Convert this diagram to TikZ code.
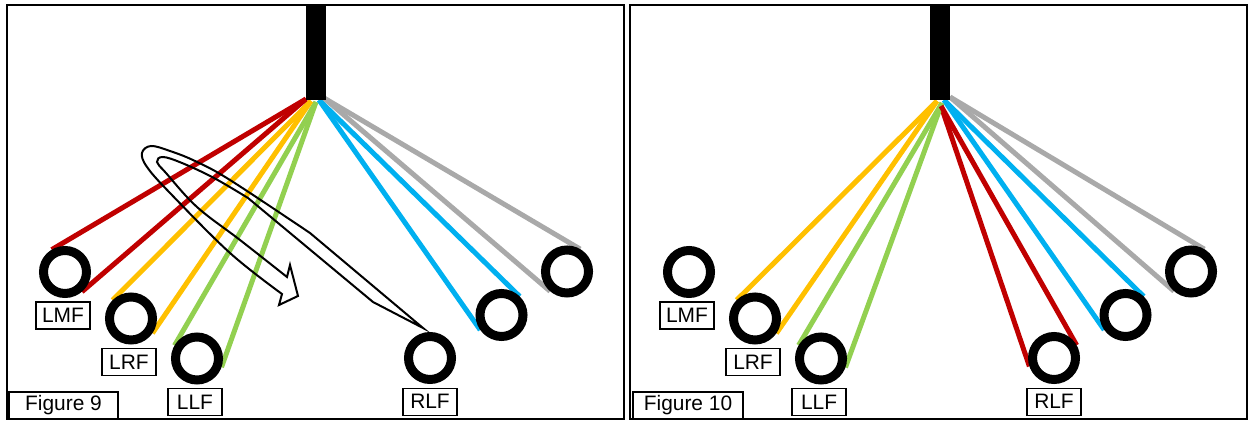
\documentclass[tikz,border=0pt]{standalone}
\usepackage{fontspec}
\setmainfont{Liberation Sans}
\usetikzlibrary{calc}
\usetikzlibrary{positioning}
\usetikzlibrary{backgrounds}

\definecolor{wirered}{HTML}{C00000}
\definecolor{wireyellow}{HTML}{FFC000}
\definecolor{wiregreen}{HTML}{92D050}
\definecolor{wireblue}{HTML}{00B0F0}
\definecolor{wiregray}{HTML}{A9A9A9}

\tikzset{
  frame/.style={line width=0.35mm},
  spk/.style={circle, draw=black, fill=white, line width=1.8mm, outer sep=0.9mm,
    minimum size=8.6mm, inner sep=0pt},
  tag/.style={draw, line width=0.28mm, minimum width=10.8mm, minimum height=5.4mm,
    inner sep=0pt, font=\fontsize{11.9}{14}\selectfont},
  wire/.style={line width=1mm},
  swoop/.style={line width=0.4mm, line join=miter},
}

\begin{document}
\begin{tikzpicture}[x=0.2mm, y=-0.2mm]
\useasboundingbox (0,0) rectangle (1250,421);

% Figure 9
\draw [frame] (7,5) rectangle (624,419);
\fill (306,4) rectangle (326,100);

\node [spk] (lmf9) at (65,272) {};
\node [spk] (lrf9) at (131,318.5) {};
\node [spk] (llf9) at (197,358.5) {};
\node [spk] (rlf9) at (430,358) {};
\node [spk] (rrf9) at (501.5,315) {};
\node [spk] (rmf9) at (567,271.5) {};

\node [tag, below=0.7mm of lmf9, xshift=-0.4mm] (lmftag9) {LMF};
\node [tag, below=0.7mm of lrf9, xshift=-0.4mm] (lrftag9) {LRF};
\node [tag, below=0.7mm of llf9, xshift=-0.4mm] (llftag9) {LLF};
\node [tag, below=0.7mm of rlf9] (rlftag9) {RLF};
\node [tag, minimum width=21.8mm] (fig9) at (63.5,405.5) {Figure 9};

\begin{pgfonlayer}{background}
\coordinate (red9) at (306,99);
\coordinate (yel9) at (311,101);
\coordinate (grn9) at (316,102);
\coordinate (blu9) at (319,100);
\coordinate (gry9) at (324,98);
\foreach \s in {1,2} {
  \draw [wire, wirered] (red9) -- (tangent cs:node=lmf9,point={(red9)},solution=\s);
  \draw [wire, wireyellow] (yel9) -- (tangent cs:node=lrf9,point={(yel9)},solution=\s);
  \draw [wire, wiregreen] (grn9) -- (tangent cs:node=llf9,point={(grn9)},solution=\s);
  \draw [wire, wireblue] (blu9) -- (tangent cs:node=rrf9,point={(blu9)},solution=\s);
  \draw [wire, wiregray] (gry9) -- (tangent cs:node=rmf9,point={(gry9)},solution=\s);
}
\end{pgfonlayer}

% swap arrow
\draw [swoop] (423,328)
  -- plot [smooth, tension=.6] coordinates {(310,233) (230,180) (195,161) (170,151)
     (151,146) (142,153) (147,167) (170,193) (230,253) (282,294)}
  -- (279,305) -- (298,296) -- (290,265)
  -- plot [smooth, tension=.6] coordinates {(287,277) (240,240) (197,207) (166,173)
     (157,162) (163,157) (182,163) (214,178) (248,198)}
  -- (373,302) -- cycle;

% Figure 10
\begin{scope}[xshift=124.8mm]
\draw [frame] (6,5) rectangle (623,419);
\fill (306,4) rectangle (326,100);

\node [spk] (lmf10) at (65,272) {};
\node [spk] (lrf10) at (131,318.5) {};
\node [spk] (llf10) at (197,358.5) {};
\node [spk] (rlf10) at (430,358) {};
\node [spk] (rrf10) at (501.5,315) {};
\node [spk] (rmf10) at (567,271.5) {};

\node [tag, below=0.7mm of lmf10, xshift=-0.4mm] (lmftag10) {LMF};
\node [tag, below=0.7mm of lrf10, xshift=-0.4mm] (lrftag10) {LRF};
\node [tag, below=0.7mm of llf10, xshift=-0.4mm] (llftag10) {LLF};
\node [tag, below=0.7mm of rlf10] (rlftag10) {RLF};
\node [tag, minimum width=22mm] (fig10) at (64,405.5) {Figure 10};

\begin{pgfonlayer}{background}
\coordinate (yel10) at (313,101);
\coordinate (grn10) at (318,103);
\coordinate (red10) at (317,106);
\coordinate (blu10) at (320,100);
\coordinate (gry10) at (326,97);
\foreach \s in {1,2} {
  \draw [wire, wireyellow] (yel10) -- (tangent cs:node=lrf10,point={(yel10)},solution=\s);
  \draw [wire, wiregreen] (grn10) -- (tangent cs:node=llf10,point={(grn10)},solution=\s);
  \draw [wire, wirered] (red10) -- (tangent cs:node=rlf10,point={(red10)},solution=\s);
  \draw [wire, wireblue] (blu10) -- (tangent cs:node=rrf10,point={(blu10)},solution=\s);
  \draw [wire, wiregray] (gry10) -- (tangent cs:node=rmf10,point={(gry10)},solution=\s);
}
\end{pgfonlayer}
\end{scope}
\end{tikzpicture}
\end{document}
